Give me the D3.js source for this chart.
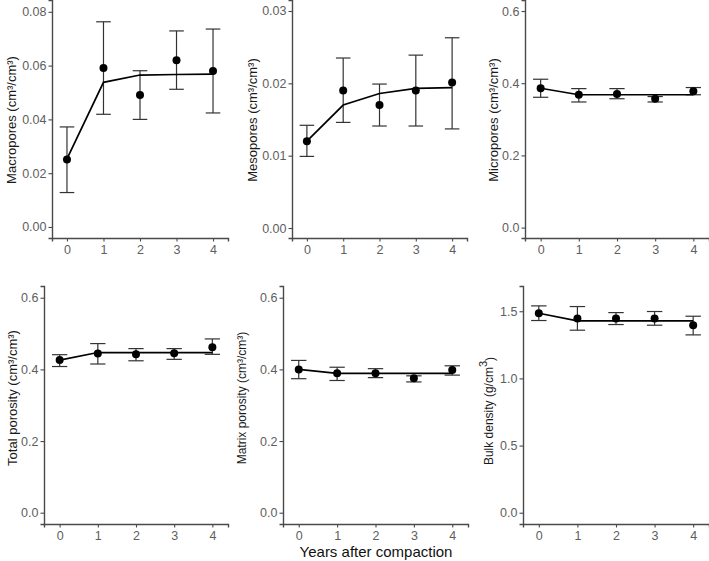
<!DOCTYPE html>
<html>
<head>
<meta charset="utf-8">
<script src="https://cdn.jsdelivr.net/npm/d3@7"></script>
<style>
  html, body { margin: 0; padding: 0; background: #fff; }
  svg { display: block; font-family: "Liberation Sans", Arial, sans-serif; }
</style>
</head>
<body>
<svg id="chart" width="709" height="561"></svg>
<script>
// ---------- data ----------
const years = [0, 1, 2, 3, 4];

const macroMean = [0.0251, 0.0591, 0.0491, 0.0620, 0.0580];
const macroLo   = [0.0128, 0.0419, 0.0400, 0.0512, 0.0424];
const macroHi   = [0.0372, 0.0763, 0.0581, 0.0729, 0.0736];
const macroFit  = [0.0253, 0.0538, 0.0565, 0.0567, 0.0568];

const mesoMean = [0.0120, 0.0190, 0.0170, 0.0190, 0.0201];
const mesoLo   = [0.0099, 0.0146, 0.0141, 0.0141, 0.0137];
const mesoHi   = [0.0142, 0.0235, 0.0199, 0.0239, 0.0263];
const mesoFit  = [0.0120, 0.0170, 0.0186, 0.0193, 0.0194];

const microMean = [0.386, 0.368, 0.370, 0.357, 0.378];
const microLo   = [0.361, 0.348, 0.357, 0.348, 0.368];
const microHi   = [0.411, 0.385, 0.385, 0.363, 0.388];
const microFit  = [0.386, 0.368, 0.368, 0.368, 0.368];

const totalMean = [0.426, 0.444, 0.442, 0.445, 0.462];
const totalLo   = [0.408, 0.415, 0.424, 0.428, 0.442];
const totalHi   = [0.441, 0.472, 0.458, 0.458, 0.485];
const totalFit  = [0.426, 0.447, 0.447, 0.447, 0.447];

const matrixMean = [0.400, 0.389, 0.389, 0.375, 0.398];
const matrixLo   = [0.374, 0.369, 0.377, 0.365, 0.384];
const matrixHi   = [0.425, 0.406, 0.402, 0.382, 0.410];
const matrixFit  = [0.400, 0.389, 0.389, 0.389, 0.389];

const bulkMean = [1.485, 1.446, 1.446, 1.446, 1.396];
const bulkLo   = [1.431, 1.359, 1.401, 1.396, 1.324];
const bulkHi   = [1.540, 1.535, 1.490, 1.498, 1.463];
const bulkFit  = [1.485, 1.428, 1.428, 1.428, 1.428];

const macroTicks  = [0, 0.02, 0.04, 0.06, 0.08];
const mesoTicks   = [0, 0.01, 0.02, 0.03];
const fracTicks   = [0, 0.2, 0.4, 0.6];
const bulkTicks   = [0, 0.5, 1.0, 1.5];
const xTicks      = [0, 1, 2, 3, 4];

const xTitle = "Years after compaction";

// ---------- panels (layout) ----------
const panels = [
  { label: ["Macropores (cm³/cm³)"], mean: macroMean, lo: macroLo, hi: macroHi, fit: macroFit,
    ticks: macroTicks, fmt: ".2f", yDom: [-0.0041, 0.0844],
    box: { l: 52, r: 228, t: 0, b: 238 }, labX: 11, labY: 120, fs: 13 },
  { label: ["Mesopores (cm³/cm³)"], mean: mesoMean, lo: mesoLo, hi: mesoHi, fit: mesoFit,
    ticks: mesoTicks, fmt: ".2f", yDom: [-0.00138, 0.03152],
    box: { l: 292, r: 467, t: 0, b: 238 }, labX: 252, labY: 120, fs: 13 },
  { label: ["Micropores (cm³/cm³)"], mean: microMean, lo: microLo, hi: microHi, fit: microFit,
    ticks: fracTicks, fmt: ".1f", yDom: [-0.0288, 0.6305],
    box: { l: 525, r: 709, t: 0, b: 238 }, labX: 493, labY: 120, fs: 13 },
  { label: ["Total porosity (cm³/cm³)"], mean: totalMean, lo: totalLo, hi: totalHi, fit: totalFit,
    ticks: fracTicks, fmt: ".1f", yDom: [-0.0315, 0.6327],
    box: { l: 44, r: 228, t: 286, b: 524 }, labX: 12, labY: 398, fs: 13 },
  { label: ["Matrix porosity (cm³/cm³)"], mean: matrixMean, lo: matrixLo, hi: matrixHi, fit: matrixFit,
    ticks: fracTicks, fmt: ".1f", yDom: [-0.0315, 0.6327],
    box: { l: 283, r: 468, t: 286, b: 524 }, labX: 242, labY: 398, fs: 12 },
  { label: ["Bulk density (g/cm", "3", ")"], mean: bulkMean, lo: bulkLo, hi: bulkHi, fit: bulkFit,
    ticks: bulkTicks, fmt: ".1f", yDom: [-0.084, 1.688],
    box: { l: 523, r: 709, t: 286, b: 524 }, labX: 489, labY: 411, fs: 12 }
];

const svg = d3.select("#chart");
const axisColor = "#4a4a4a";
const tickTextColor = "#5e5e5e";

panels.forEach(p => {
  const b = p.box;
  const x = d3.scaleLinear().domain([-0.41, 4.41]).range([b.l, b.r]);
  const y = d3.scaleLinear().domain(p.yDom).range([b.b, b.t]);
  const g = svg.append("g");

  // axes
  const yAxis = d3.axisLeft(y).tickValues(p.ticks).tickFormat(d3.format(p.fmt))
    .tickSizeOuter(0).tickSize(3.5).tickPadding(2);
  const ya = g.append("g").attr("transform", `translate(${b.l},0)`).call(yAxis);
  const xAxis = d3.axisBottom(x).tickValues(xTicks).tickFormat(d3.format("d"))
    .tickSizeOuter(0).tickSize(3.5).tickPadding(3.5);
  const xa = g.append("g").attr("transform", `translate(0,${b.b})`).call(xAxis);
  [ya, xa].forEach(a => {
    a.select(".domain").attr("stroke", axisColor).attr("stroke-width", 1.4);
    a.selectAll(".tick line").attr("stroke", axisColor).attr("stroke-width", 1.1);
    a.selectAll(".tick text").attr("fill", tickTextColor)
      .style("font-size", "12.5px").style("font-family", "'Liberation Sans', Arial, sans-serif");
  });

  // error bars
  const half = 0.2;
  const eb = g.append("g").attr("stroke", "#333").attr("stroke-width", 1.2).attr("fill", "none");
  years.forEach((yr, i) => {
    eb.append("line").attr("x1", x(yr)).attr("x2", x(yr)).attr("y1", y(p.lo[i])).attr("y2", y(p.hi[i]));
    eb.append("line").attr("x1", x(yr - half)).attr("x2", x(yr + half)).attr("y1", y(p.lo[i])).attr("y2", y(p.lo[i]));
    eb.append("line").attr("x1", x(yr - half)).attr("x2", x(yr + half)).attr("y1", y(p.hi[i])).attr("y2", y(p.hi[i]));
  });

  // fitted line
  const line = d3.line().x((d, i) => x(years[i])).y(d => y(d));
  g.append("path").datum(p.fit).attr("d", line)
    .attr("fill", "none").attr("stroke", "#000").attr("stroke-width", 1.7);

  // points
  g.selectAll("circle.pt").data(p.mean).join("circle").attr("class", "pt")
    .attr("cx", (d, i) => x(years[i])).attr("cy", d => y(d)).attr("r", 4).attr("fill", "#000");

  // y label
  const t = g.append("text")
    .attr("transform", `translate(${p.labX},${p.labY}) rotate(-90)`)
    .attr("text-anchor", "middle").attr("dy", "0.35em")
    .attr("fill", "#1a1a1a").style("font-size", p.fs + "px");
  if (p.label.length === 1) {
    t.text(p.label[0]);
  } else {
    t.append("tspan").text(p.label[0]);
    t.append("tspan").text(p.label[1]).attr("dy", "-0.6em").style("font-size", (p.fs - 1) + "px");
    t.append("tspan").text(p.label[2]).attr("dy", "0.6em");
  }
});

// x title
svg.append("text").attr("x", 376).attr("y", 552).attr("dy", "0.35em")
  .attr("text-anchor", "middle").attr("fill", "#111")
  .style("font-size", "15px").text(xTitle);
</script>
</body>
</html>
